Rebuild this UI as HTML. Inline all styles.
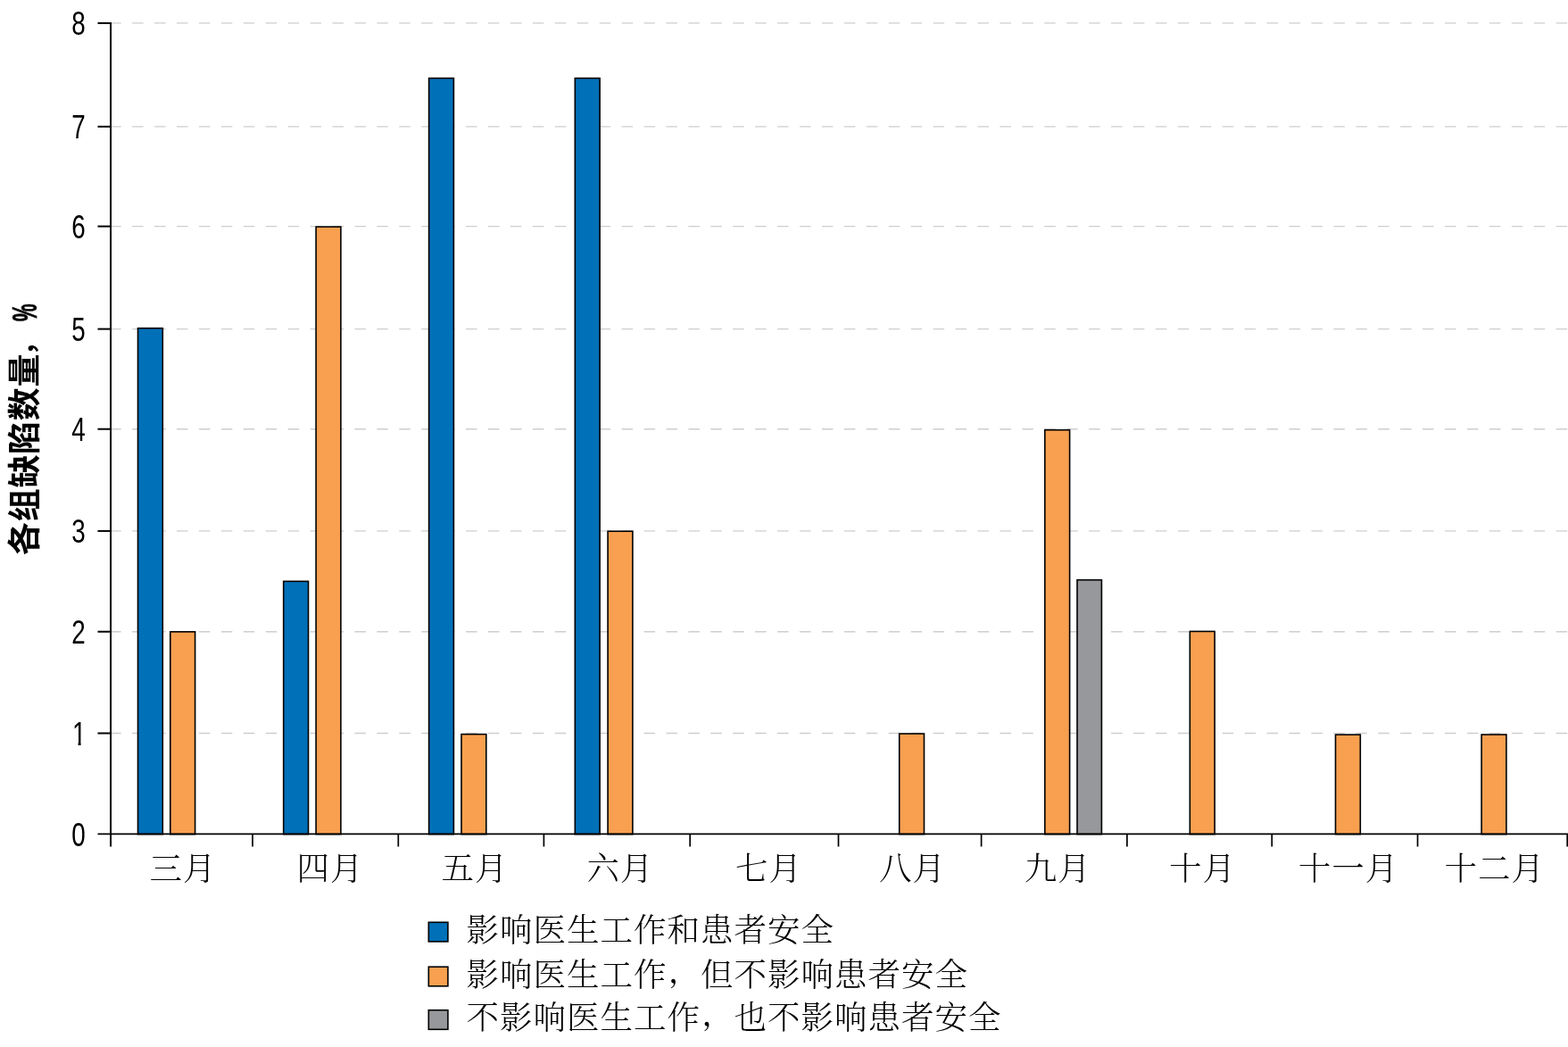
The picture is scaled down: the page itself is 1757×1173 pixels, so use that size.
<!DOCTYPE html>
<html lang="zh-CN">
<head>
<meta charset="utf-8">
<title>各组缺陷数量</title>
<style>
html,body{margin:0;padding:0;background:#fff;}
body{width:1757px;height:1173px;overflow:hidden;position:relative;}
svg{position:absolute;left:0;top:0;display:block;}
.num{font-family:"Liberation Sans",sans-serif;font-size:36.6px;fill:#000;text-anchor:middle;}
.mon{font-family:"Liberation Serif","Noto Serif CJK SC",serif;font-weight:300;font-size:36.5px;fill:#000;letter-spacing:1px;}
.leg{font-family:"Liberation Serif","Noto Serif CJK SC",serif;font-weight:300;font-size:36.5px;fill:#000;letter-spacing:1px;}
.ylab{font-family:"Liberation Sans","Noto Sans CJK SC",sans-serif;font-weight:bold;font-size:37px;fill:#000;}
.cm{font-size:30px;}
.lc{font-size:30px;font-weight:600;}
.pct{stroke:#000;stroke-width:0.7px;font-family:"Liberation Sans",sans-serif;font-weight:bold;font-size:38px;fill:#000;}
</style>
</head>
<body>
<svg width="1757" height="1173" viewBox="0 0 1757 1173">
<rect x="0" y="0" width="1757" height="1173" fill="#ffffff"/>

<g stroke="#cecece" stroke-width="1.4" stroke-dasharray="12.5 12.43" fill="none">
<line x1="123.2" y1="821.50" x2="1757" y2="821.50"/>
<line x1="123.2" y1="707.70" x2="1757" y2="707.70"/>
<line x1="123.2" y1="594.90" x2="1757" y2="594.90"/>
<line x1="123.2" y1="480.70" x2="1757" y2="480.70"/>
<line x1="123.2" y1="368.60" x2="1757" y2="368.60"/>
<line x1="123.2" y1="253.60" x2="1757" y2="253.60"/>
<line x1="123.2" y1="141.85" x2="1757" y2="141.85"/>
<line x1="123.2" y1="25.90" x2="1757" y2="25.90"/>
</g>
<g stroke="#000" stroke-width="1.6">
<rect x="154.50" y="367.70" width="27.80" height="566.90" fill="#0070b8"/>
<rect x="190.80" y="707.80" width="27.80" height="226.80" fill="#f8a050"/>
<rect x="317.70" y="651.30" width="27.80" height="283.30" fill="#0070b8"/>
<rect x="354.10" y="254.10" width="27.80" height="680.50" fill="#f8a050"/>
<rect x="480.60" y="87.60" width="27.80" height="847.00" fill="#0070b8"/>
<rect x="517.00" y="822.60" width="27.80" height="112.00" fill="#f8a050"/>
<rect x="644.30" y="87.60" width="27.80" height="847.00" fill="#0070b8"/>
<rect x="681.10" y="595.20" width="27.80" height="339.40" fill="#f8a050"/>
<rect x="1007.70" y="822.00" width="27.80" height="112.60" fill="#f8a050"/>
<rect x="1170.80" y="481.70" width="27.80" height="452.90" fill="#f8a050"/>
<rect x="1207.00" y="649.70" width="27.40" height="284.90" fill="#97989b"/>
<rect x="1333.30" y="707.40" width="27.80" height="227.20" fill="#f8a050"/>
<rect x="1496.50" y="823.10" width="27.80" height="111.50" fill="#f8a050"/>
<rect x="1660.10" y="823.00" width="27.80" height="111.60" fill="#f8a050"/>
</g>
<g stroke="#000" fill="none">
<line x1="124.05" y1="24.9" x2="124.05" y2="948.5" stroke-width="2"/>
<line x1="109.5" y1="934.4" x2="1757" y2="934.4" stroke-width="1.7"/>
<line x1="109.5" y1="821.50" x2="124.2" y2="821.50" stroke-width="2"/>
<line x1="109.5" y1="707.70" x2="124.2" y2="707.70" stroke-width="2"/>
<line x1="109.5" y1="594.90" x2="124.2" y2="594.90" stroke-width="2"/>
<line x1="109.5" y1="480.70" x2="124.2" y2="480.70" stroke-width="2"/>
<line x1="109.5" y1="368.60" x2="124.2" y2="368.60" stroke-width="2"/>
<line x1="109.5" y1="253.60" x2="124.2" y2="253.60" stroke-width="2"/>
<line x1="109.5" y1="141.85" x2="124.2" y2="141.85" stroke-width="2"/>
<line x1="109.5" y1="25.90" x2="124.2" y2="25.90" stroke-width="2"/>
<line x1="283.00" y1="934.6" x2="283.00" y2="948.5" stroke-width="1.7"/>
<line x1="446.30" y1="934.6" x2="446.30" y2="948.5" stroke-width="1.7"/>
<line x1="609.40" y1="934.6" x2="609.40" y2="948.5" stroke-width="1.7"/>
<line x1="773.20" y1="934.6" x2="773.20" y2="948.5" stroke-width="1.7"/>
<line x1="939.50" y1="934.6" x2="939.50" y2="948.5" stroke-width="1.7"/>
<line x1="1099.60" y1="934.6" x2="1099.60" y2="948.5" stroke-width="1.7"/>
<line x1="1262.90" y1="934.6" x2="1262.90" y2="948.5" stroke-width="1.7"/>
<line x1="1425.20" y1="934.6" x2="1425.20" y2="948.5" stroke-width="1.7"/>
<line x1="1588.50" y1="934.6" x2="1588.50" y2="948.5" stroke-width="1.7"/>
<line x1="1756.20" y1="934.6" x2="1756.20" y2="948.5" stroke-width="1.7"/>
</g>
<defs><clipPath id="stem"><rect x="78" y="800" width="22" height="31.7"/><rect x="87.6" y="831" width="3.0" height="6"/></clipPath></defs>
<text class="num" transform="translate(88,947.60) scale(0.760,1)" x="0" y="0">0</text>
<g clip-path="url(#stem)"><text class="num" transform="translate(88.7,834.50) scale(0.760,1)" x="0" y="0">1</text></g>
<text class="num" transform="translate(88,720.70) scale(0.760,1)" x="0" y="0">2</text>
<text class="num" transform="translate(88,607.90) scale(0.760,1)" x="0" y="0">3</text>
<text class="num" transform="translate(88,493.70) scale(0.760,1)" x="0" y="0">4</text>
<text class="num" transform="translate(88,381.60) scale(0.760,1)" x="0" y="0">5</text>
<text class="num" transform="translate(88,266.60) scale(0.760,1)" x="0" y="0">6</text>
<text class="num" transform="translate(88,154.85) scale(0.760,1)" x="0" y="0">7</text>
<text class="num" transform="translate(88,38.90) scale(0.760,1)" x="0" y="0">8</text>
<text class="mon" x="167.60" y="986">三月</text>
<text class="mon" x="332.60" y="986">四月</text>
<text class="mon" x="494.60" y="986">五月</text>
<text class="mon" x="657.60" y="986">六月</text>
<text class="mon" x="824.00" y="986">七月</text>
<text class="mon" x="985.00" y="986">八月</text>
<text class="mon" x="1147.70" y="986">九月</text>
<text class="mon" x="1310.10" y="986">十月</text>
<text class="mon" x="1454.85" y="986">十一月</text>
<text class="mon" x="1618.45" y="986">十二月</text>
<rect x="480.3" y="1033.30" width="21.6" height="21.6" fill="#0070b8" stroke="#000" stroke-width="1.6"/>
<text class="leg" x="522.5" y="1054.75">影响医生工作和患者安全</text>
<rect x="480.3" y="1083.20" width="21.6" height="21.6" fill="#f8a050" stroke="#000" stroke-width="1.6"/>
<text class="leg" x="522.5" y="1104.50">影响医生工作<tspan class="lc" dx="2.5" dy="-4.6">，</tspan><tspan dx="4" dy="4.6">但不影响患者安全</tspan></text>
<rect x="480.3" y="1131.70" width="21.6" height="21.6" fill="#97989b" stroke="#000" stroke-width="1.6"/>
<text class="leg" x="522.5" y="1152.80">不影响医生工作<tspan class="lc" dx="2.5" dy="-4.6">，</tspan><tspan dx="4" dy="4.6">也不影响患者安全</tspan></text>
<text class="ylab" transform="translate(41,622) rotate(-90)" x="0" y="0" letter-spacing="0.7">各组缺陷数量<tspan class="cm" dx="-3" dy="-3.5">，</tspan></text>
<text class="pct" transform="translate(41,360) rotate(-90) scale(0.58,1)" x="0" y="0">%</text>
</svg>
</body>
</html>
